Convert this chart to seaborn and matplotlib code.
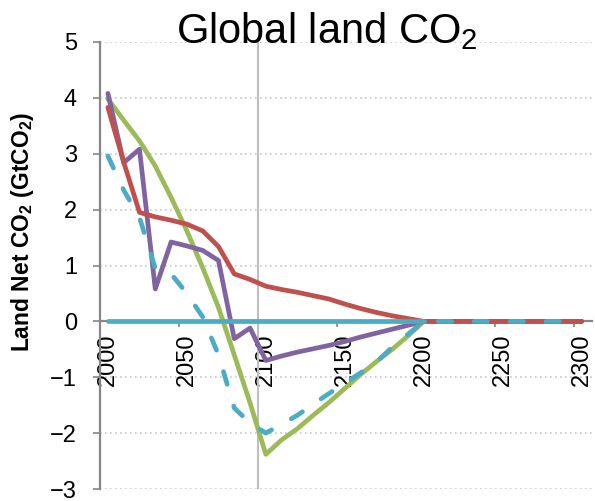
import numpy as np
import pandas as pd
import matplotlib
matplotlib.use("Agg")
import matplotlib.pyplot as plt
import seaborn as sns

# decadal categories shown on the x axis
years = [2000, 2010, 2020, 2030, 2040, 2050, 2060, 2070, 2080, 2090,
         2100, 2110, 2120, 2130, 2140, 2150, 2160, 2170, 2180, 2190,
         2200, 2210, 2220, 2230, 2240, 2250, 2260, 2270, 2280, 2290, 2300]

# Land net CO2 (GtCO2)
red_vals = [3.83, 2.85, 1.95, 1.87, 1.81, 1.74, 1.62, 1.34, 0.85, 0.75,
            0.63, 0.57, 0.52, 0.46, 0.40, 0.31, 0.23, 0.16, 0.10, 0.05,
            0, 0, 0, 0, 0, 0, 0, 0, 0, 0, 0]
purple_vals = [4.08, 2.84, 3.08, 0.58, 1.42, 1.35, 1.27, 1.09, -0.31, -0.12,
               -0.70, -0.62, -0.55, -0.49, -0.43, -0.36, -0.28, -0.21, -0.14, -0.07,
               0, 0, 0, 0, 0, 0, 0, 0, 0, 0, 0]
green_vals = [3.98, 3.60, 3.23, 2.78, 2.22, 1.62, 0.96, 0.25, -0.60, -1.46,
              -2.38, -2.12, -1.92, -1.68, -1.45, -1.20, -0.95, -0.72, -0.50, -0.26,
              0, 0, 0, 0, 0, 0, 0, 0, 0, 0, 0]
dashed_vals = [2.96, 2.35, 1.86, 0.95, 0.85, 0.50, 0.08, -0.60, -1.55, -1.82,
               -2.00, -1.84, -1.68, -1.48, -1.29, -1.11, -0.92, -0.73, -0.46, -0.23,
               0, 0, 0, 0, 0, 0, 0, 0, 0, 0, 0]
baseline_vals = [0, 0, 0, 0, 0, 0, 0, 0, 0, 0,
                 0, 0, 0, 0, 0, 0, 0, 0, 0, 0, 0]

xtick_labels = ["2000", "2050", "2100", "2150", "2200", "2250", "2300"]

sns.set_style("white")
plt.rcParams['font.family'] = ['Liberation Sans', 'DejaVu Sans']
plt.rcParams['mathtext.fontset'] = 'custom'
plt.rcParams['mathtext.rm'] = 'Liberation Sans'
plt.rcParams['mathtext.it'] = 'Liberation Sans:italic'
plt.rcParams['mathtext.bf'] = 'Liberation Sans:bold'
plt.rcParams['text.color'] = 'black'

fig = plt.figure(figsize=(5.95, 5.01), dpi=100)
ax = fig.add_axes([100/595, 12/501, 492/595, 447/501])

df = pd.DataFrame({"year": years, "red": red_vals, "purple": purple_vals,
                   "green": green_vals, "dashed": dashed_vals})
df_base = pd.DataFrame({"year": years[:len(baseline_vals)], "base": baseline_vals})

lw = 3.4
line_kw = dict(linewidth=lw, solid_capstyle='round', solid_joinstyle='round',
               estimator=None, errorbar=None)
sns.lineplot(data=df, x="year", y="green", color="#9BBB59", ax=ax, zorder=2.0, **line_kw)
sns.lineplot(data=df, x="year", y="purple", color="#8064A2", ax=ax, zorder=2.1, **line_kw)
sns.lineplot(data=df, x="year", y="red", color="#C0504D", ax=ax, zorder=2.2, **line_kw)
sns.lineplot(data=df_base, x="year", y="base", color="#4BACC6", ax=ax, zorder=2.3, **line_kw)
sns.lineplot(data=df, x="year", y="dashed", color="#4BACC6", ax=ax, zorder=2.4,
             linestyle=(0, (2.8, 4.8)), dash_capstyle='round', **line_kw)

ax.set_xlim(1995, 2306.5)
ax.set_ylim(-3, 5)

# horizontal dotted gridlines
for yv in range(-3, 6):
    if yv != 0:
        ax.axhline(yv, color='#c8c8c8', linestyle=(0, (1, 2)), linewidth=1.2, zorder=0.5)
ax.axvline(2095, color='#bfbfbf', linewidth=1.5, zorder=1)

for s in ['top', 'right']:
    ax.spines[s].set_visible(False)
ax.spines['left'].set_color('#868686')
ax.spines['left'].set_linewidth(1.6)
ax.spines['bottom'].set_color('#868686')
ax.spines['bottom'].set_linewidth(1.6)
ax.spines['bottom'].set_position(('data', 0))
ax.spines['bottom'].set_zorder(1)
ax.spines['left'].set_zorder(1)

ax.set_yticks(range(-3, 6))
ax.tick_params(axis='y', direction='out', length=5, width=1.2, color='#868686',
               labelsize=17, labelcolor='black', pad=11.5, left=True)
ax.set_xticks([int(t) for t in xtick_labels])
ax.set_xticklabels(xtick_labels, rotation=90)
ax.set_xticks([int(t) - 5 for t in xtick_labels], minor=True)
ax.tick_params(axis='x', which='major', length=0, labelsize=17, labelcolor='black', pad=8.5)
ax.tick_params(axis='x', which='minor', direction='out', length=4.3, width=1.2,
               color='#868686', bottom=True)
for lab in ax.get_xticklabels():
    lab.set_verticalalignment('top')

ax.set_xlabel("")
ax.set_ylabel("")
fig.text(23/595, 1 - 232/501, r'Land Net CO$_\mathbf{2}$ (GtCO$_\mathbf{2}$)',
         rotation=90, ha='center', va='center', fontsize=16.5, fontweight='bold')
fig.text(326.5/595, 1 - 43/501, r'Global land CO$_2$', ha='center', va='baseline',
         fontsize=30)

fig.savefig("out.png", dpi=100)
